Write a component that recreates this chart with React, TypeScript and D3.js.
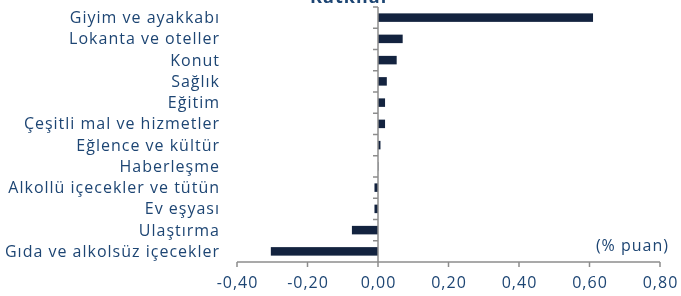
import React, { useEffect, useRef } from "react";
import * as d3 from "d3";

// categories top to bottom
const categories = [
  "Giyim ve ayakkabı",
  "Lokanta ve oteller",
  "Konut",
  "Sağlık",
  "Eğitim",
  "Çeşitli mal ve hizmetler",
  "Eğlence ve kültür",
  "Haberleşme",
  "Alkollü içecekler ve tütün",
  "Ev eşyası",
  "Ulaştırma",
  "Gıda ve alkolsüz içecekler",
];
const contributions = [0.61, 0.07, 0.053, 0.025, 0.02, 0.02, 0.007, 0.001, -0.01, -0.01, -0.074, -0.304];
const xTicks = [-0.4, -0.2, 0, 0.2, 0.4, 0.6, 0.8];
const unitLabel = "(% puan)";
const title = "Katkılar";

const W = 681;
const H = 296;

const App = () => {
  const svgRef = useRef<SVGSVGElement>(null);

  useEffect(() => {
    const svg = d3.select(svgRef.current);
    svg.selectAll("*").remove();

    const font = "'Open Sans', sans-serif";
    const textColor = "#1d4573";
    const axisColor = "#8c8c8c";

    const x = d3.scaleLinear().domain([-0.4, 0.8]).range([237, 660]);
    const y = d3.scaleBand<string>()
      .domain(categories)
      .range([7, 262])
      .paddingInner(0.6)
      .paddingOuter(0.3);
    const gap = (y.step() - y.bandwidth()) / 2;

    // title, mostly cut off by the top edge
    svg.append("text")
      .attr("x", 350)
      .attr("y", 3)
      .attr("text-anchor", "middle")
      .attr("font-family", font)
      .attr("font-weight", "bold")
      .attr("font-size", 18)
      .attr("letter-spacing", 1)
      .attr("fill", textColor)
      .text(title);

    // bars
    svg.append("g")
      .selectAll("rect")
      .data(categories)
      .join("rect")
      .attr("x", (d, i) => x(Math.min(0, contributions[i])))
      .attr("y", d => y(d)!)
      .attr("width", (d, i) => Math.abs(x(contributions[i]) - x(0)))
      .attr("height", y.bandwidth())
      .attr("fill", "#13233f");

    // bottom value axis
    const xAxis = svg.append("g").attr("transform", "translate(0,262)");
    xAxis.append("line")
      .attr("x1", x(-0.4)).attr("x2", x(0.8))
      .attr("stroke", axisColor).attr("stroke-width", 1.5);
    xAxis.selectAll("line.tick")
      .data(xTicks)
      .join("line")
      .attr("class", "tick")
      .attr("x1", d => x(d)).attr("x2", d => x(d))
      .attr("y1", 0).attr("y2", 5)
      .attr("stroke", axisColor).attr("stroke-width", 1.5);
    xAxis.selectAll("text")
      .data(xTicks)
      .join("text")
      .attr("x", d => x(d) + 0.5)
      .attr("y", 26)
      .attr("text-anchor", "middle")
      .attr("font-family", font)
      .attr("font-size", 16)
      .attr("letter-spacing", 1)
      .attr("fill", textColor)
      .text(d => d3.format(".2f")(d).replace(".", ",").replace("−", "-"));

    // vertical category axis at zero
    const yAxis = svg.append("g");
    yAxis.append("line")
      .attr("x1", x(0)).attr("x2", x(0))
      .attr("y1", 7).attr("y2", 262)
      .attr("stroke", axisColor).attr("stroke-width", 1.5);
    yAxis.selectAll("line.tick")
      .data(categories)
      .join("line")
      .attr("class", "tick")
      .attr("x1", x(0) - 5).attr("x2", x(0))
      .attr("y1", d => y(d)! - gap).attr("y2", d => y(d)! - gap)
      .attr("stroke", axisColor).attr("stroke-width", 1.5);
    yAxis.selectAll("text")
      .data(categories)
      .join("text")
      .attr("x", 220)
      .attr("y", d => y(d)! + y.bandwidth() / 2)
      .attr("dy", "0.35em")
      .attr("text-anchor", "end")
      .attr("font-family", font)
      .attr("font-size", 16)
      .attr("letter-spacing", 1)
      .attr("fill", textColor)
      .text(d => d);

    // unit label
    svg.append("text")
      .attr("x", 669)
      .attr("y", 251)
      .attr("text-anchor", "end")
      .attr("font-family", font)
      .attr("font-size", 16)
      .attr("letter-spacing", 1)
      .attr("fill", textColor)
      .text(unitLabel);
  }, []);

  return (
    <div style={{ position: "fixed", left: 0, top: 0 }}>
      <svg ref={svgRef} width={W} height={H} style={{ display: "block" }} />
    </div>
  );
};

export default App;
